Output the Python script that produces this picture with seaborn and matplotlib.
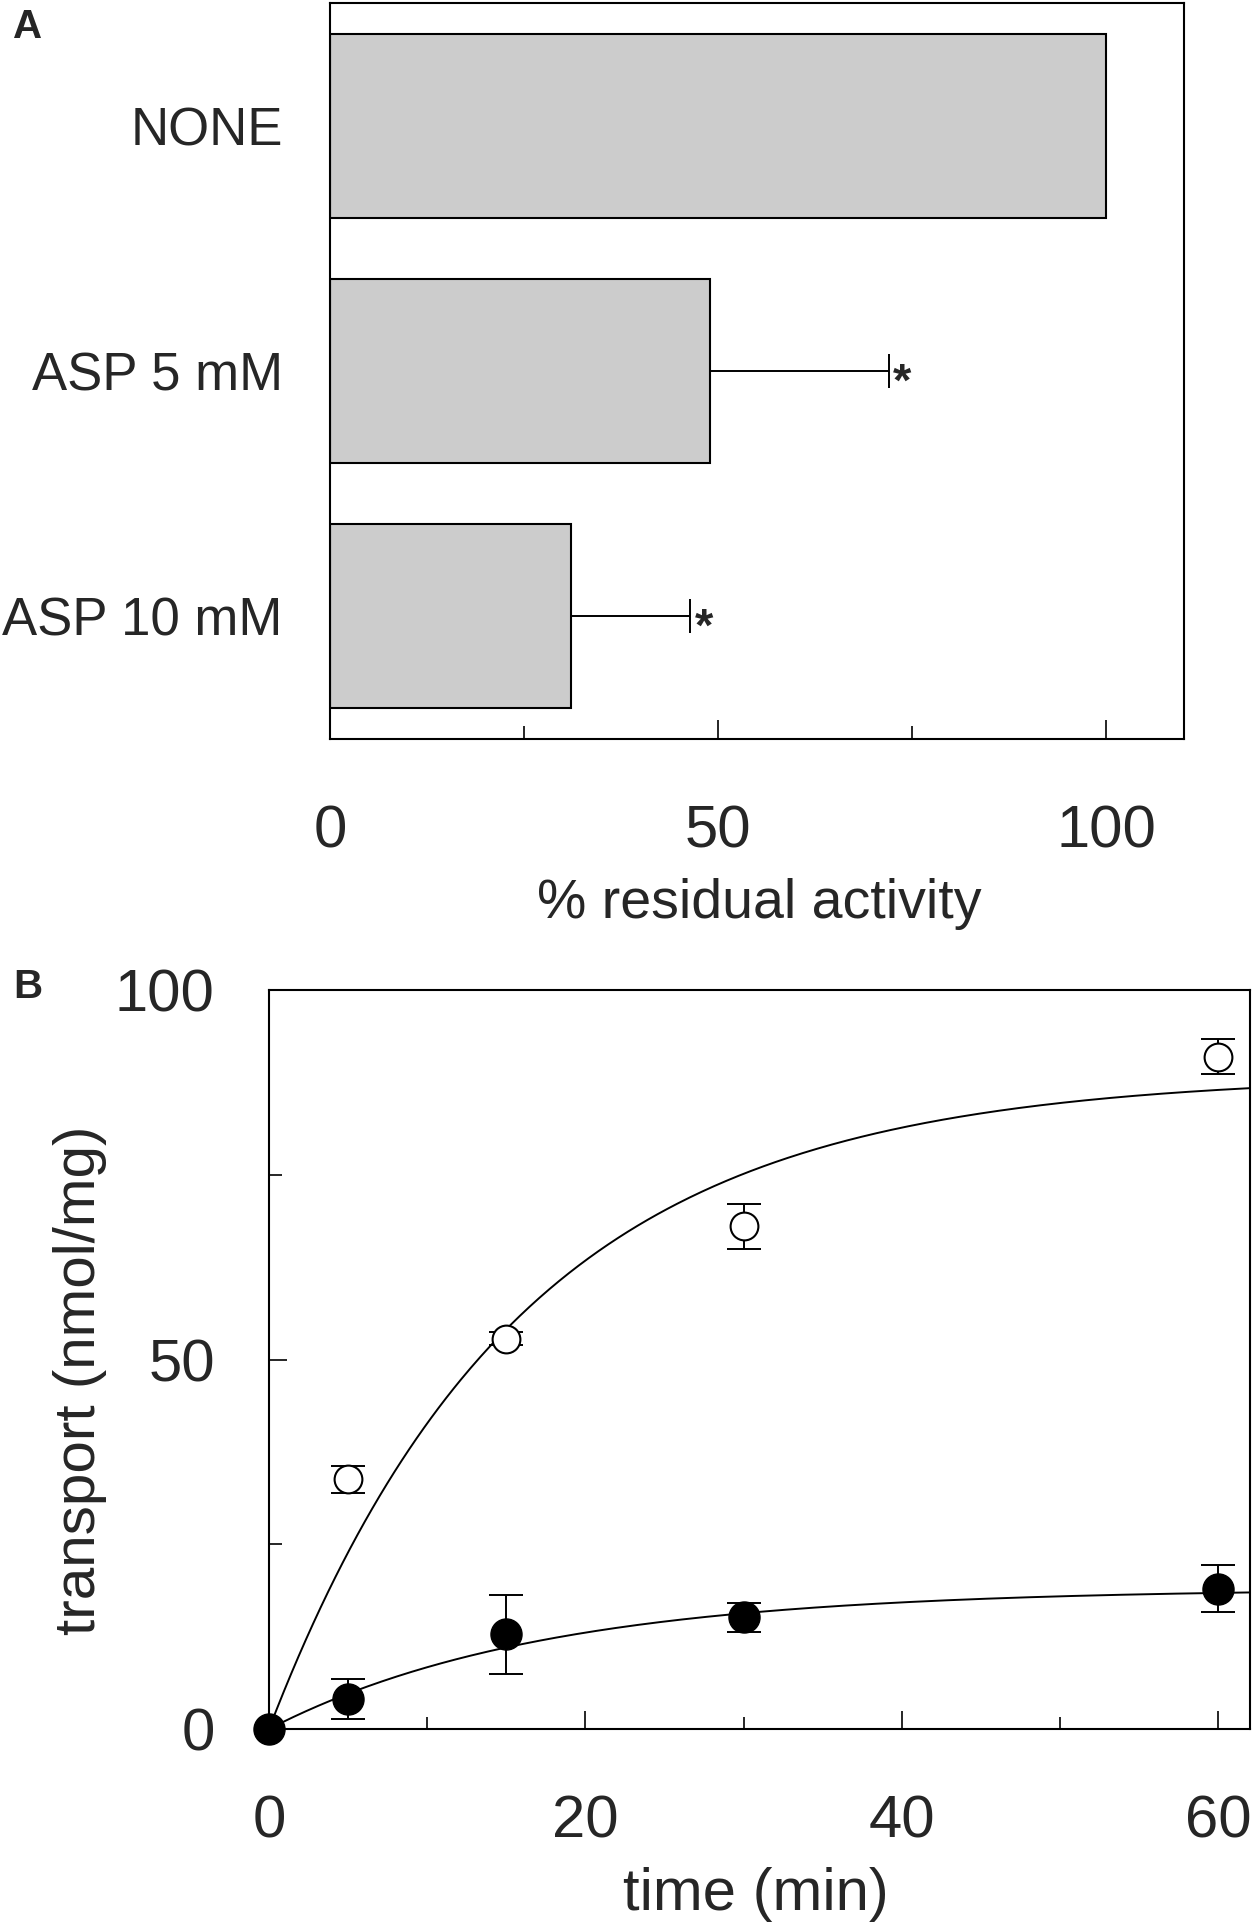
import numpy as np
import pandas as pd
import matplotlib
matplotlib.use("Agg")
import matplotlib.pyplot as plt
import seaborn as sns
from matplotlib import font_manager
from matplotlib.ticker import FixedLocator

# Panel A: residual activity
conditions = ["NONE", "ASP 5 mM", "ASP 10 mM"]
activity = [100, 49, 31]
activity_err = [0, 23, 15.4]
signif = ["", "*", "*"]

# Panel B: time course
time_min = [0, 5, 15, 30, 60]
open_vals = [0, 33.8, 52.8, 68.0, 91.0]
open_err = [0, 1.8, 0.9, 3.0, 2.4]
filled_vals = [0, 4.0, 12.8, 15.1, 19.0]
filled_err = [0, 2.7, 5.3, 2.0, 3.2]

# fitted curves: plateau * (1 - exp(-rate * t))
open_fit = {"plateau": 88.5, "rate": 0.063}
filled_fit = {"plateau": 19.0, "rate": 0.058}

sns.set_style("white")
plt.rcParams["font.family"] = ["Liberation Sans", "DejaVu Sans"]
plt.rcParams["axes.linewidth"] = 1.5

# the category labels of panel A are set in a narrower face
installed = {f.name for f in font_manager.fontManager.ttflist}
if "Liberation Sans Narrow" in installed:
    cat_font = {"family": ["Liberation Sans Narrow", "DejaVu Sans"], "size": 45}
else:
    cat_font = {"family": ["Liberation Sans", "DejaVu Sans"], "size": 38}

W, H = 1257, 1930
fig = plt.figure(figsize=(W / 100, H / 100), dpi=100)

# ---------------- Panel A ----------------
ax_a = fig.add_axes([330 / W, 1 - 739 / H, 854 / W, 736 / H])
df_a = pd.DataFrame({"cond": conditions, "act": activity})
sns.barplot(data=df_a, x="act", y="cond", orient="h", color="#cccccc",
            saturation=1, edgecolor="black", linewidth=1.5, width=0.75,
            errorbar=None, ax=ax_a)
pos = np.arange(len(conditions))
ax_a.errorbar(activity, pos, xerr=[np.zeros(len(activity)), activity_err],
              fmt="none", ecolor="black", elinewidth=1.4, capsize=12,
              capthick=1.4, zorder=3)
for i, (v, e, s) in enumerate(zip(activity, activity_err, signif)):
    if s:
        ax_a.annotate(s, xy=(v + e, i), xytext=(3, -9), textcoords="offset points",
                      ha="left", va="center", fontsize=34, fontweight="bold")

ax_a.set_xlim(0, 110)
ax_a.set_ylim(2.5, -0.5)
ax_a.xaxis.set_major_locator(FixedLocator([0, 50, 100]))
ax_a.xaxis.set_minor_locator(FixedLocator([25, 75]))
ax_a.tick_params(axis="x", which="major", direction="in", length=13.5, width=1.4,
                 pad=47, labelsize=43, bottom=True, top=False)
ax_a.tick_params(axis="x", which="minor", direction="in", length=9.5, width=1.4,
                 bottom=True, top=False)
ax_a.tick_params(axis="y", length=0, pad=34)
for lab in ax_a.get_yticklabels():
    lab.set_fontfamily(cat_font["family"])
    lab.set_fontsize(cat_font["size"])
ax_a.set_ylabel("")
ax_a.set_xlabel("% residual activity", fontsize=40)
ax_a.xaxis.set_label_coords(0.503, -0.224)
ax_a.xaxis.label.set_va("center")
for sp in ax_a.spines.values():
    sp.set_visible(True)
    sp.set_color("black")
    sp.set_linewidth(1.5)

# ---------------- Panel B ----------------
ax_b = fig.add_axes([269 / W, 1 - 1729 / H, 981 / W, 739 / H])
t_fit = np.linspace(0, 62, 400)
fit_df = pd.DataFrame({
    "t": np.concatenate([t_fit, t_fit]),
    "y": np.concatenate([
        open_fit["plateau"] * (1 - np.exp(-open_fit["rate"] * t_fit)),
        filled_fit["plateau"] * (1 - np.exp(-filled_fit["rate"] * t_fit)),
    ]),
    "series": ["open"] * len(t_fit) + ["filled"] * len(t_fit),
})
sns.lineplot(data=fit_df, x="t", y="y", units="series", estimator=None,
             color="black", linewidth=1.4, ax=ax_b, zorder=2)

ax_b.errorbar(time_min, open_vals, yerr=open_err, fmt="none", ecolor="black",
              elinewidth=1.4, capsize=12.5, capthick=1.4, zorder=3)
ax_b.errorbar(time_min, filled_vals, yerr=filled_err, fmt="none", ecolor="black",
              elinewidth=1.4, capsize=12.5, capthick=1.4, zorder=3)

sns.scatterplot(x=time_min, y=open_vals, marker="o", s=400, color="white",
                edgecolor="black", linewidth=1.5, ax=ax_b, zorder=4)
sns.scatterplot(x=time_min, y=filled_vals, marker="o", s=500, color="black",
                edgecolor="black", linewidth=1.0, ax=ax_b, zorder=5)
for coll in ax_b.collections:
    coll.set_clip_on(False)

ax_b.set_xlim(0, 62)
ax_b.set_ylim(0, 100)
ax_b.xaxis.set_major_locator(FixedLocator([0, 20, 40, 60]))
ax_b.xaxis.set_minor_locator(FixedLocator([10, 30, 50]))
ax_b.yaxis.set_major_locator(FixedLocator([0, 50, 100]))
ax_b.yaxis.set_minor_locator(FixedLocator([25, 75]))
ax_b.tick_params(which="major", direction="in", length=13, width=1.4,
                 labelsize=43, bottom=True, left=True, top=False, right=False)
ax_b.tick_params(which="minor", direction="in", length=9, width=1.4,
                 bottom=True, left=True, top=False, right=False)
ax_b.tick_params(axis="x", which="major", pad=47)
ax_b.tick_params(axis="y", which="major", pad=39)
ax_b.set_xlabel("time (min)", fontsize=43)
ax_b.set_ylabel("transport (nmol/mg)", fontsize=42)
ax_b.xaxis.set_label_coords(0.496, -0.2246)
ax_b.xaxis.label.set_va("center")
ax_b.yaxis.set_label_coords(-0.1927, 0.472)
ax_b.yaxis.label.set_va("center")
for sp in ax_b.spines.values():
    sp.set_visible(True)
    sp.set_color("black")
    sp.set_linewidth(1.5)

# panel letters
fig.text(13 / W, 1 - 8 / H, "A", fontsize=29, fontweight="bold", va="top", ha="left")
fig.text(13 / W, 1 - 968 / H, "B", fontsize=29, fontweight="bold", va="top", ha="left")

fig.savefig("out.png", dpi=100, facecolor="white")
